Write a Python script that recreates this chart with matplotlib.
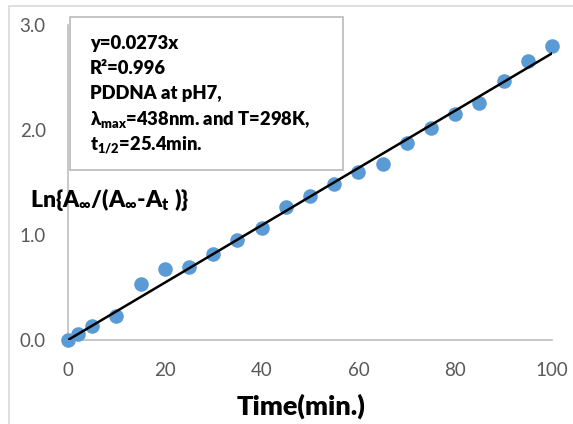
import matplotlib
matplotlib.use("Agg")
import matplotlib.pyplot as plt
from matplotlib.patches import Rectangle

# data
time_min = [0, 2, 5, 10, 15, 20, 25, 30, 35, 40, 45, 50, 55, 60, 65, 70, 75, 80, 85, 90, 95, 100]
ln_ratio = [0.0, 0.06, 0.13, 0.23, 0.53, 0.68, 0.70, 0.82, 0.95, 1.07, 1.27, 1.37, 1.49, 1.60,
            1.68, 1.88, 2.02, 2.15, 2.26, 2.47, 2.66, 2.80]
slope = 0.0273
fit_x = [0, 100]
x_ticks = [0, 20, 40, 60, 80, 100]
y_ticks = [0.0, 1.0, 2.0, 3.0]

BOLD = 800
plt.rcParams['font.family'] = ['Lato', 'DejaVu Sans']
plt.rcParams['mathtext.fontset'] = 'custom'
plt.rcParams['mathtext.rm'] = 'Lato:weight=heavy'
plt.rcParams['mathtext.it'] = 'Lato:weight=heavy'
plt.rcParams['mathtext.bf'] = 'Lato:weight=heavy'

W, H = 573, 424
fig = plt.figure(figsize=(W / 100, H / 100), dpi=100)

# outer chart border
fig.patches.append(Rectangle((9 / W, -0.1), 1.2, 1 - 6 / H + 0.1, transform=fig.transFigure,
                             fill=False, edgecolor='#D9D9D9', lw=1.2))

ax = fig.add_axes([68 / W, 1 - 340 / H, (552 - 68) / W, (340 - 25) / H])
ax.set_xlim(0, 100)
ax.set_ylim(0, 3)

ax.scatter(time_min, ln_ratio, s=110, color='#5B9BD5', zorder=3, clip_on=False, linewidths=0)
ax.plot(fit_x, [slope * v for v in fit_x], color='black', lw=1.8, zorder=4)

for s in ['top', 'right']:
    ax.spines[s].set_visible(False)
for s in ['left', 'bottom']:
    ax.spines[s].set_color('#BFBFBF')
    ax.spines[s].set_linewidth(1.2)

ax.set_xticks(x_ticks)
ax.set_yticks(y_ticks)
ax.set_yticklabels([f"{v:.1f}" for v in y_ticks])
ax.tick_params(length=0, labelsize=13.5, labelcolor='#595959')
ax.tick_params(axis='x', pad=16)
ax.tick_params(axis='y', pad=16)

# equation box
fig.patches.append(Rectangle((70 / W, 1 - 170 / H), (343 - 70) / W, (170 - 17) / H,
                             transform=fig.transFigure, facecolor='white',
                             edgecolor='#BFBFBF', lw=1.3, zorder=5))
lines = ["y=0.0273x", "R²=0.996", "PDDNA at pH7,",
         r"λ$_{max}$=438nm. and T=298K,", r"t$_{1/2}$=25.4min."]
baselines = [49, 74, 99, 125, 151]
for txt, b in zip(lines, baselines):
    fig.text(90 / W, 1 - b / H, txt, fontsize=13.2, fontweight=BOLD, va='baseline',
             ha='left', zorder=6)

fig.text(30 / W, 1 - 207 / H, r"Ln{A$_{\infty}$/(A$_{\infty}$-A$_t$ )}", fontsize=16.5,
         fontweight=BOLD, va='baseline', ha='left')
fig.text(301 / W, 1 - 415 / H, "Time(min.)", fontsize=19.5, fontweight=BOLD,
         va='baseline', ha='center')

fig.savefig("out.png", dpi=100)
